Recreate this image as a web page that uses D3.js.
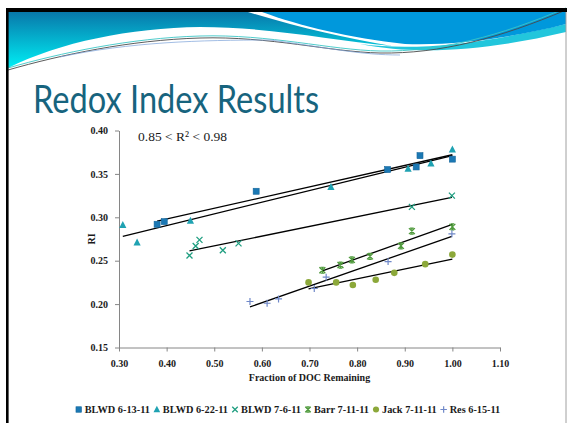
<!DOCTYPE html>
<html>
<head>
<meta charset="utf-8">
<script src="https://cdn.jsdelivr.net/npm/d3@7"></script>
<style>
  html, body { margin: 0; padding: 0; background: #fff; }
  svg { display: block; }
</style>
</head>
<body>
<svg id="chart" width="567" height="423"></svg>
<script>
// Redox index vs. fraction of dissolved organic carbon remaining, per sample run
const seriesNames = ["BLWD 6-13-11", "BLWD 6-22-11", "BLWD 7-6-11", "Barr 7-11-11", "Jack 7-11-11", "Res 6-15-11"];
const seriesColors = ["#1b78b4", "#1fa2b2", "#1f9e80", "#4f9a3c", "#8ca83a", "#6f88c8"];
const seriesShapes = ["square", "triangle", "cross", "star", "circle", "plus"];

// [fraction of DOC remaining, RI]
const blwd0613 = [[0.380, 0.292], [0.395, 0.295], [0.588, 0.330], [0.864, 0.355], [0.924, 0.358], [0.932, 0.371], [1.000, 0.367]];
const blwd0622 = [[0.308, 0.291], [0.338, 0.271], [0.450, 0.296], [0.745, 0.335], [0.907, 0.356], [0.955, 0.362], [1.000, 0.378]];
const blwd0706 = [[0.448, 0.256], [0.461, 0.267], [0.469, 0.274], [0.518, 0.262], [0.551, 0.270], [0.915, 0.312], [0.999, 0.325]];
const barr0711 = [[0.727, 0.239], [0.765, 0.245], [0.789, 0.251], [0.827, 0.255], [0.892, 0.267], [0.915, 0.284], [1.000, 0.289]];
const jack0711 = [[0.698, 0.225], [0.756, 0.225], [0.791, 0.222], [0.839, 0.228], [0.878, 0.236], [0.943, 0.246], [1.000, 0.257]];
const res0615  = [[0.575, 0.203], [0.611, 0.201], [0.635, 0.206], [0.710, 0.218], [0.735, 0.231], [0.865, 0.249], [0.999, 0.281]];
const seriesData = [blwd0613, blwd0622, blwd0706, barr0711, jack0711, res0615];

const xTicks = [0.30, 0.40, 0.50, 0.60, 0.70, 0.80, 0.90, 1.00, 1.10];
const yTicks = [0.15, 0.20, 0.25, 0.30, 0.35, 0.40];

const titleText = "Redox Index Results";
const r2Text = "0.85 < R\u00B2 < 0.98";
const xTitle = "Fraction of DOC Remaining";
const yTitle = "RI";

const svg = d3.select("#chart");
const serif = "'Liberation Serif', 'DejaVu Serif', serif";

// ---- slide frame and header banner ----
const defs = svg.append("defs");
const grad = defs.append("linearGradient").attr("id", "tealGrad")
  .attr("gradientUnits", "userSpaceOnUse")
  .attr("x1", 0).attr("y1", 12).attr("x2", 0).attr("y2", 68);
grad.append("stop").attr("offset", 0).attr("stop-color", "#0878aa");
grad.append("stop").attr("offset", 1).attr("stop-color", "#00eef4");

svg.append("path")
  .attr("d", "M8,12 H248 C300,28 345,38 392,46 C330,40 270,27 200,27 C130,28 60,42 8,68 Z")
  .attr("fill", "url(#tealGrad)");
svg.append("path")
  .attr("d", "M360,44 C420,52 490,42 566,24 V32 C490,50 420,56 360,44 Z")
  .attr("fill", "#22c6dc");
svg.append("path")
  .attr("d", "M262,12 H566 V24 C520,36 460,46 405,44 C350,38 300,26 262,12 Z")
  .attr("fill", "#0098dc");
svg.append("path")
  .attr("d", "M8,68 C60,53 130,38 200,36 C270,34 330,50 380,51 C440,52 500,36 566,8")
  .attr("fill", "none").attr("stroke", "#3cc6c6").attr("stroke-width", 0.9);
svg.append("path")
  .attr("d", "M8,70 C60,55 130,40 200,38 C270,36 330,52 380,53 C440,54 500,38 566,10")
  .attr("fill", "none").attr("stroke", "#4a4a4a").attr("stroke-width", 0.9);
svg.append("path")
  .attr("d", "M60,57 C130,42 200,40 270,40 C330,48 360,55 400,55")
  .attr("fill", "none").attr("stroke", "#7aa0d8").attr("stroke-width", 0.7);

svg.append("rect").attr("x", 6).attr("y", 8).attr("width", 561).attr("height", 4).attr("fill", "#000");
svg.append("rect").attr("x", 6).attr("y", 8).attr("width", 2.6).attr("height", 415).attr("fill", "#000");
svg.append("line").attr("x1", 566).attr("x2", 566).attr("y1", 12).attr("y2", 423)
  .attr("stroke", "#a0a0a0").attr("stroke-width", 1);

// ---- title ----
svg.append("text")
  .attr("x", 33).attr("y", 113)
  .attr("font-family", "Lato, 'Open Sans', sans-serif")
  .attr("font-size", 39)
  .attr("fill", "#17647e")
  .attr("textLength", 286).attr("lengthAdjust", "spacingAndGlyphs")
  .text(titleText);

// ---- scales & axes ----
const x = d3.scaleLinear().domain([0.30, 1.10]).range([119, 500]);
const y = d3.scaleLinear().domain([0.15, 0.40]).range([347.5, 130.5]);

const xAxis = svg.append("g").attr("transform", `translate(0,${y(0.15)})`)
  .call(d3.axisBottom(x).tickValues(xTicks).tickFormat(d3.format(".2f")).tickSizeInner(4).tickSizeOuter(0).tickPadding(8));
const yAxis = svg.append("g").attr("transform", `translate(${x(0.30)},0)`)
  .call(d3.axisLeft(y).tickValues(yTicks).tickFormat(d3.format(".2f")).tickSizeInner(4).tickSizeOuter(0).tickPadding(7));
[xAxis, yAxis].forEach(g => {
  g.select(".domain").attr("stroke", "#868686");
  g.selectAll(".tick line").attr("stroke", "#868686");
  g.selectAll(".tick text").attr("font-family", serif).attr("font-weight", "bold")
    .attr("font-size", 10).attr("fill", "#1a1a1a");
});

svg.append("text").attr("x", (x.range()[0] + x.range()[1]) / 2).attr("y", 381)
  .attr("text-anchor", "middle").attr("font-family", serif).attr("font-weight", "bold")
  .attr("font-size", 10).attr("fill", "#1a1a1a").text(xTitle);
svg.append("text")
  .attr("transform", `translate(95,${(y.range()[0] + y.range()[1]) / 2}) rotate(-90)`)
  .attr("text-anchor", "middle").attr("font-family", serif).attr("font-weight", "bold")
  .attr("font-size", 10).attr("fill", "#1a1a1a").text(yTitle);

svg.append("text").attr("x", 138).attr("y", 141)
  .attr("font-family", serif).attr("font-size", 13.5).attr("fill", "#1a1a1a").text(r2Text);

// ---- linear trendlines (least squares over each series' own range) ----
function fit(pts) {
  const mx = d3.mean(pts, p => p[0]), my = d3.mean(pts, p => p[1]);
  const sxy = d3.sum(pts, p => (p[0] - mx) * (p[1] - my));
  const sxx = d3.sum(pts, p => (p[0] - mx) ** 2);
  const b = sxy / sxx, a = my - b * mx;
  const [x0, x1] = d3.extent(pts, p => p[0]);
  return [[x0, a + b * x0], [x1, a + b * x1]];
}
const line = d3.line().x(d => x(d[0])).y(d => y(d[1]));
svg.append("g").selectAll("path").data(seriesData).join("path")
  .attr("d", d => line(fit(d)))
  .attr("fill", "none").attr("stroke", "#000").attr("stroke-width", 1.3);

// ---- markers ----
function drawMarker(g, shape, color, s) {
  const h = s / 2;
  if (shape === "square") {
    g.append("rect").attr("x", -h).attr("y", -h).attr("width", s).attr("height", s)
      .attr("fill", color).attr("stroke", "#15679c").attr("stroke-width", 0.6);
  } else if (shape === "triangle") {
    g.append("path").attr("d", `M0,${-h - 1} L${h + 0.6},${h} L${-h - 0.6},${h} Z`).attr("fill", color);
  } else if (shape === "circle") {
    g.append("circle").attr("r", h + 0.3).attr("fill", color);
  } else if (shape === "cross") {
    g.append("path").attr("d", `M${-h},${-h} L${h},${h} M${-h},${h} L${h},${-h}`)
      .attr("stroke", color).attr("stroke-width", 1.3).attr("fill", "none");
  } else if (shape === "star") {
    g.append("path").attr("d", `M${-h},${-h} L${h},${h} M${-h},${h} L${h},${-h} M0,${-h} V${h} M${-h * 0.6},${-h} H${h * 0.6} M${-h * 0.6},${h} H${h * 0.6}`)
      .attr("stroke", color).attr("stroke-width", 1.2).attr("fill", "none");
  } else if (shape === "plus") {
    g.append("path").attr("d", `M${-h - 0.5},0 H${h + 0.5} M0,${-h - 0.5} V${h + 0.5}`)
      .attr("stroke", color).attr("stroke-width", 1.2).attr("fill", "none");
  }
}

seriesData.forEach((pts, i) => {
  const g = svg.append("g");
  pts.forEach(p => {
    const m = g.append("g").attr("transform", `translate(${x(p[0])},${y(p[1])})`);
    drawMarker(m, seriesShapes[i], seriesColors[i], 6);
  });
});

// ---- legend ----
const legend = svg.append("g");
let cx = 0;
seriesNames.forEach((name, i) => {
  const g = legend.append("g");
  const m = g.append("g").attr("transform", `translate(${cx + 3},-3.5)`);
  drawMarker(m, seriesShapes[i], seriesColors[i], 5.5);
  const t = g.append("text").attr("x", cx + 9).attr("y", 0)
    .attr("font-family", serif).attr("font-weight", "bold").attr("font-size", 10.3)
    .attr("fill", "#1a1a1a").text(name);
  cx += 9 + t.node().getComputedTextLength() + 4;
});
const legendWidth = cx - 4;
legend.attr("transform", `translate(${(73 + 503) / 2 - legendWidth / 2},413)`);
</script>
</body>
</html>
